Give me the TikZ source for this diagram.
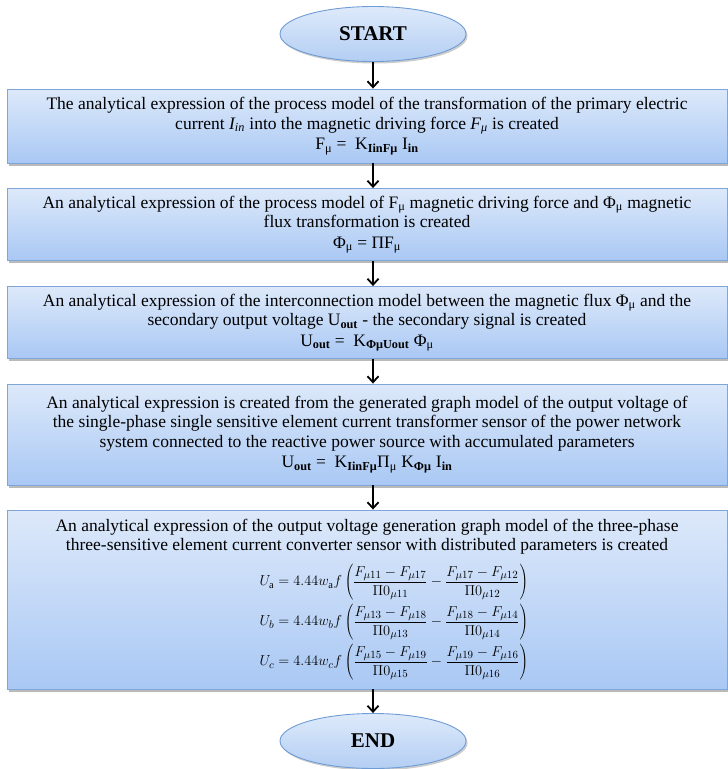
\documentclass[tikz,border=0pt]{standalone}
\usepackage{fontspec}
\setmainfont{Liberation Serif}
\usetikzlibrary{arrows.meta,shapes.geometric,shadows}
\definecolor{bordc}{HTML}{7EA6D9}
\definecolor{topc}{HTML}{DDE9FA}
\definecolor{botc}{HTML}{A9C8F4}
\definecolor{elltop}{HTML}{DEEAFB}
\definecolor{ellbot}{HTML}{B3CEF3}
\definecolor{ellbord}{HTML}{6F9CD4}
\newcommand{\ms}{\textsubscript{μ}}
\newcommand{\fml}[1]{\hspace*{54pt}\mbox{\fontsize{15}{17}\selectfont$\displaystyle #1$}}
\begin{document}
\begin{tikzpicture}[x=1pt,y=-1pt,
  procbox/.style={draw=bordc, line width=0.9pt, top color=topc, bottom color=botc,
    minimum width=720pt, align=flush center, text width=712pt, inner sep=0pt,
    font=\fontsize{17.5}{19.5}\selectfont,
    drop shadow={shadow xshift=1.5pt, shadow yshift=-2.5pt, fill=black!45, opacity=0.6}},
  termnode/.style={ellipse, draw=ellbord, line width=0.9pt, top color=elltop, bottom color=ellbot,
    minimum width=186pt, minimum height=55pt, inner sep=0pt,
    font=\fontsize{21}{24}\selectfont\bfseries,
    drop shadow={shadow xshift=1.5pt, shadow yshift=-2pt, fill=black!40, opacity=0.5}},
  flowarrow/.style={line width=1.8pt, -{Straight Barb[length=6pt,width=11pt,line width=1.8pt]}}
]
\useasboundingbox (0,0) rectangle (728,769);
\coordinate (ax) at (373,0);

\node[termnode] (start) at (373,34) {START};

\node[procbox, minimum height=74pt] (b1) at (367,126) {The analytical expression  of the process model of the transformation of the primary electric\\
current \textit{I\textsubscript{in}} into the magnetic driving force \textit{F\textsubscript{μ}} is created\\[1pt]
F\ms\ =\ \ K\textsubscript{\textbf{IinFμ}} I\textsubscript{\textbf{in}}};

\node[procbox, minimum height=72pt] (b2) at (367,224.5) {An analytical expression of the process model of F\ms\ magnetic driving force and Φ\ms\ magnetic\\
flux transformation is created\\[1pt]
Φ\ms\ = ΠF\ms};

\node[procbox, minimum height=72pt] (b3) at (367,322.5) {An analytical expression of the interconnection model between the magnetic flux Φ\ms\ and the\\
secondary output voltage U\textsubscript{\textbf{out}} - the secondary signal is created\\[1pt]
U\textsubscript{\textbf{out}}\ =\ \ K\textsubscript{\textbf{ΦμUout}} Φ\ms};

\node[procbox, minimum height=101pt] (b4) at (367,434.5) {An analytical expression is created from the generated graph model of the output voltage of\\
the single-phase single sensitive element current transformer sensor of the power network\\
system connected to the reactive power source with accumulated parameters\\[1pt]
U\textsubscript{\textbf{out}}\ =\ \ K\textsubscript{\textbf{IinFμ}}Π\ms\ K\textsubscript{\textbf{Φμ}} I\textsubscript{\textbf{in}}};

\node[procbox, minimum height=179pt] (b5) at (367,599.5) {An analytical expression of the output voltage generation graph model of the three-phase\\
three-sensitive element current converter sensor with distributed parameters is created\\[9pt]
\fml{U_{\mathrm{a}} = 4.44w_{\mathrm{a}}f\left(\frac{F_{\mu11}-F_{\mu17}}{\Pi0_{\mu11}}-\frac{F_{\mu17}-F_{\mu12}}{\Pi0_{\mu12}}\right)}\\[3pt]
\fml{U_{b} = 4.44w_{b}f\left(\frac{F_{\mu13}-F_{\mu18}}{\Pi0_{\mu13}}-\frac{F_{\mu18}-F_{\mu14}}{\Pi0_{\mu14}}\right)}\\[3pt]
\fml{U_{c} = 4.44w_{c}f\left(\frac{F_{\mu15}-F_{\mu19}}{\Pi0_{\mu15}}-\frac{F_{\mu19}-F_{\mu16}}{\Pi0_{\mu16}}\right)}};

\node[termnode] (end) at (373,741) {END};

\draw[flowarrow] (start.south) -- (b1.north -| ax);
\draw[flowarrow] (b1.south -| ax) -- (b2.north -| ax);
\draw[flowarrow] (b2.south -| ax) -- (b3.north -| ax);
\draw[flowarrow] (b3.south -| ax) -- (b4.north -| ax);
\draw[flowarrow] (b4.south -| ax) -- (b5.north -| ax);
\draw[flowarrow] (b5.south -| ax) -- (end.north);
\end{tikzpicture}
\end{document}
